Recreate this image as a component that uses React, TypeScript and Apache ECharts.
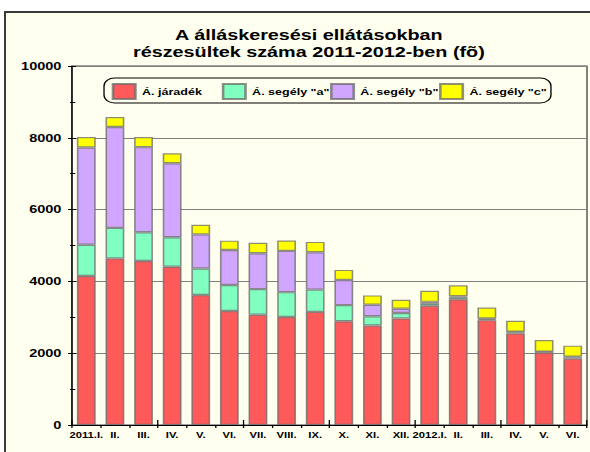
import React, { useEffect, useRef } from "react";
import * as echarts from "echarts";

const categories = ["2011.I.", "II.", "III.", "IV.", "V.", "VI.", "VII.", "VIII.", "IX.", "X.", "XI.", "XII.", "2012.I.", "II.", "III.", "IV.", "V.", "VI."];
const seriesNames = ["Á. járadék", "Á. segély \"a\"", "Á. segély \"b\"", "Á. segély \"c\""];
const jaradek = [4150, 4640, 4570, 4410, 3620, 3175, 3070, 3010, 3150, 2890, 2770, 2970, 3320, 3500, 2920, 2555, 2020, 1850];
const segelyA = [870, 850, 800, 820, 740, 725, 715, 690, 620, 450, 260, 150, 70, 60, 30, 30, 15, 35];
const segelyB = [2710, 2810, 2370, 2060, 950, 975, 1000, 1150, 1040, 700, 320, 120, 40, 25, 15, 15, 10, 20];
const segelyC = [290, 280, 280, 280, 270, 260, 290, 290, 290, 280, 260, 250, 310, 305, 305, 305, 320, 305];
const yTicks = { min: 0, max: 10000, interval: 2000 };

const colors = ["#FF5A5A", "#80FFC0", "#D0A6FF", "#FFFF00"];
const S = 1.32;
const W = 590 / S;
const H = 452;
const FONT = 'Arial, "Liberation Sans", sans-serif';

export default function App() {
  const ref = useRef<HTMLDivElement>(null);
  useEffect(() => {
    if (!ref.current) return;
    const chart = echarts.init(ref.current, undefined, { renderer: "svg", width: W, height: H });
    const values = [jaradek, segelyA, segelyB, segelyC];
    const legendLeft = [84.6, 168, 250, 332.6];
    chart.setOption({
      animation: false,
      backgroundColor: "transparent",
      textStyle: { fontFamily: FONT },
      title: {
        text: "A álláskeresési ellátásokban\nrészesültek száma 2011-2012-ben (fõ)",
        left: 229,
        textAlign: "center",
        top: 21,
        textStyle: { fontFamily: FONT, fontSize: 15, fontWeight: "bold", color: "#000", lineHeight: 17 },
      },
      legend: seriesNames.map((name, i) => ({
        data: [name],
        left: legendLeft[i],
        top: 83,
        padding: 0,
        itemGap: 0,
        itemWidth: 17,
        itemHeight: 15,
        icon: "rect",
        selectedMode: false,
        textStyle: { fontFamily: FONT, fontSize: 9.5, fontWeight: "bold", color: "#000" },
      })),
      graphic: [
        {
          type: "rect",
          shape: { x: 78.8, y: 78, width: 338.6, height: 25, r: 8 },
          style: { fill: "none", stroke: "#000", lineWidth: 1 },
          z: 10,
        },
      ],
      grid: {
        left: 72 / S,
        right: W - 587 / S,
        top: 66,
        bottom: 27,
        show: true,
        borderColor: "#444",
        borderWidth: 1,
        backgroundColor: "transparent",
      },
      xAxis: [
        {
          type: "category",
          data: categories,
          position: "bottom",
          boundaryGap: true,
          axisLine: { lineStyle: { color: "#000", width: 1 } },
          axisTick: { show: true, length: 3, lineStyle: { color: "#000" } },
          axisLabel: { interval: 0, margin: 6, fontFamily: FONT, fontSize: 8.5, fontWeight: "bold", color: "#000" },
        },
        {
          type: "category",
          data: categories,
          position: "bottom",
          boundaryGap: true,
          axisLine: { show: false },
          axisTick: { show: true, inside: true, length: 5, lineStyle: { color: "#000" } },
          axisLabel: { show: false },
        },
      ],
      yAxis: [
        {
          type: "value",
          position: "left",
          ...yTicks,
          axisLine: { show: true, lineStyle: { color: "#000", width: 1 } },
          axisTick: { show: true, length: 3, lineStyle: { color: "#000" } },
          minorTick: { show: true, splitNumber: 2, length: 1.5, lineStyle: { color: "#000" } },
          splitLine: { show: true, lineStyle: { color: "#808080", width: 1 } },
          axisLabel: {
            margin: 8,
            formatter: (v: number) => String(v),
            fontFamily: FONT,
            fontSize: 11,
            fontWeight: "bold",
            color: "#000",
          },
        },
        {
          type: "value",
          position: "left",
          ...yTicks,
          axisLine: { show: false },
          axisTick: { show: true, inside: true, length: 3, lineStyle: { color: "#000" } },
          minorTick: { show: true, splitNumber: 2, length: 2.5, lineStyle: { color: "#000" } },
          splitLine: { show: false },
          axisLabel: { show: false },
        },
      ],
      series: seriesNames.map((name, i) => ({
        name,
        type: "bar",
        stack: "total",
        data: values[i],
        barWidth: "66%",
        itemStyle: { color: colors[i], borderColor: "rgba(105,105,105,0.75)", borderWidth: 1.2 },
      })),
    });
    return () => chart.dispose();
  }, []);

  return (
    <div style={{ position: "fixed", left: 0, top: 0, width: 590, height: 452, background: "#fff", overflow: "hidden" }}>
      <div
        style={{
          position: "absolute",
          left: 4,
          top: 11,
          width: 600,
          height: 470,
          border: "2px solid #3a3a3a",
          background: "#FFFFF0",
          boxSizing: "border-box",
        }}
      />
      <div
        ref={ref}
        style={{
          position: "absolute",
          left: 0,
          top: 0,
          width: W,
          height: H,
          transform: `scaleX(${S})`,
          transformOrigin: "0 0",
        }}
      />
    </div>
  );
}
